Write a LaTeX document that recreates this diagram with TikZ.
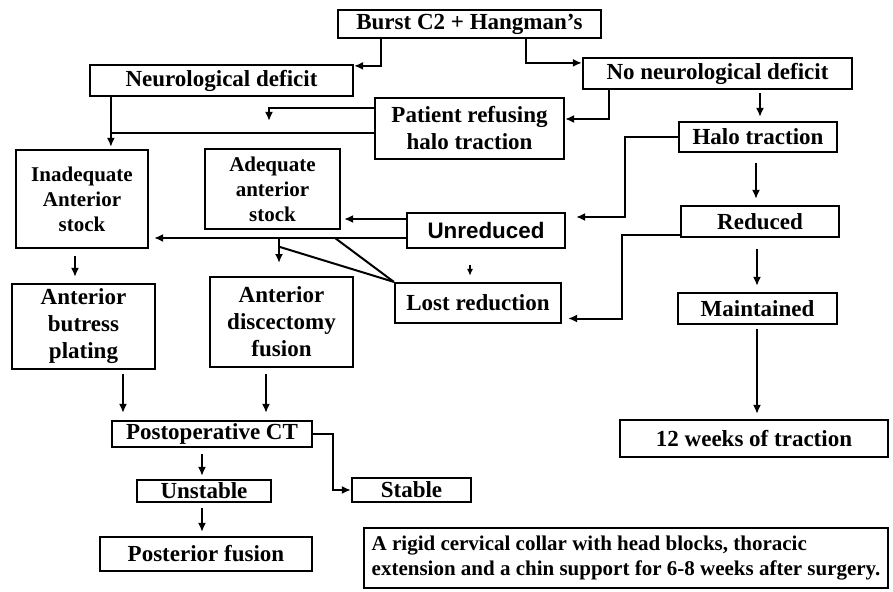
\documentclass[tikz,border=0pt]{standalone}
\usepackage{fontspec}
\setmainfont{Liberation Serif}
\setsansfont{Liberation Sans}
\usetikzlibrary{arrows.meta}
\tikzset{
    box/.style={draw, line width=2.2pt, inner sep=0pt, align=center,
    	font=\bfseries\fontsize{23}{27}\selectfont}
}
\tikzset{
    smalltext/.style={font=\bfseries\fontsize{21}{25}\selectfont}
}
\tikzset{
    arr/.style={line width=2pt, -{Latex[length=9pt,width=8pt]}},
    link/.style={line width=2pt}
}

\begin{document}
\begin{tikzpicture}[x=1pt, y=-1pt]
	\useasboundingbox (0,0) rectangle (893,591);
	\node (burst) [box, minimum width=263pt, minimum height=28pt] at (469.5, 24) {Burst C2 + Hangman's};
	\node (neuro) [box, minimum width=263pt, minimum height=31pt] at (221.5, 80.5) {Neurological deficit};
	\node (noneuro) [box, minimum width=269pt, minimum height=31pt] at (717.5, 73.5) {No neurological deficit};
	\node (patient) [box, minimum width=189pt, minimum height=61pt] at (469.5, 128.5) {Patient refusing\\halo traction};
	\node (halo) [box, minimum width=158pt, minimum height=30pt] at (758, 137) {Halo traction};
	\node (inadeq) [box, smalltext, minimum width=132pt, minimum height=98pt] at (82, 199) {Inadequate\\Anterior\\stock};
	\node (adeq) [box, smalltext, minimum width=135pt, minimum height=80pt] at (272.5, 189) {Adequate\\anterior\\stock};
	\node (unred) [box, font=\sffamily\bfseries\fontsize{22.4}{26}\selectfont, minimum width=158pt, minimum height=35pt] at (486, 230.5) {Unreduced};
	\node (reduced) [box, minimum width=158pt, minimum height=31pt] at (760, 221.5) {Reduced};
	\node (lost) [box, minimum width=166pt, minimum height=40pt] at (478, 303) {Lost reduction};
	\node (maint) [box, minimum width=159pt, minimum height=31pt] at (757.5, 308.5) {Maintained};
	\node (weeks) [box, minimum width=268pt, minimum height=37pt] at (754, 438.5) {12 weeks of traction};
	\node (butress) [box, minimum width=143pt, minimum height=85pt] at (83.5, 326.5) {Anterior\\butress\\plating};
	\node (discect) [box, minimum width=143pt, minimum height=90pt] at (281.5, 322) {Anterior\\discectomy\\fusion};
	\node (postct) [box, minimum width=200pt, minimum height=26pt] at (212, 434) {Postoperative CT};
	\node (unstable) [box, minimum width=134pt, minimum height=22pt] at (204, 491) {Unstable};
	\node (stable) [box, minimum width=119pt, minimum height=24pt] at (411.5, 490) {Stable};
	\node (posterior) [box, minimum width=212pt, minimum height=34pt] at (206, 554) {Posterior fusion};
	\node (note) [box, smalltext, align=left, line width=2.6pt, minimum width=524pt, minimum height=60pt] at (626, 558) {A rigid cervical collar with head blocks, thoracic\\extension and a chin support for 6-8 weeks after surgery.};

	\coordinate (nd) at ([xshift=22pt]neuro.south west);
	\coordinate (pj) at ([yshift=-4.5pt]patient.west);
	\coordinate (pk) at ([yshift=20.5pt]patient.west);
	\coordinate (ua) at ([yshift=11.5pt]unred.west);
	\coordinate (ub) at ([yshift=-7.5pt]unred.west);
	\coordinate (dj) at (279, 238);
	\coordinate (dk) at (280, 247);
	\coordinate (lj) at (335, 238);

	\draw[arr] ([xshift=44pt]burst.south west) |- ([yshift=-2pt]neuro.north east);
	\draw[arr] ([xshift=189pt]burst.south west) |- ([yshift=-6pt]noneuro.north west);
	\draw[arr] ([xshift=27pt]noneuro.south west) |- ([yshift=9.5pt]patient.east);
	\draw[arr, shorten <=3pt, shorten >=4pt] ([xshift=42.5pt]noneuro.south) -- ([xshift=2pt]halo.north);
	\draw[arr, shorten >=2pt] (nd) -- (nd |- inadeq.north);
	\draw[link] (pj) -- (pj -| nd);
	\draw[arr] (pk) -| ([xshift=-3.5pt, yshift=27pt]adeq.north);
	\draw[arr] (halo.west) -- ++(-53,0) |- ([xshift=10pt, yshift=13.5pt]unred.east);
	\draw[arr] ([yshift=-13.5pt]reduced.west) -- ++(-58,0) |- ([xshift=6pt, yshift=-15.5pt]lost.east);
	\draw[arr, shorten <=10pt, shorten >=6pt] ([xshift=-2pt]halo.south) -- ([xshift=-4pt]reduced.north);
	\draw[arr, shorten <=11pt, shorten >=6pt] ([xshift=-3pt]reduced.south) -- ([xshift=-0.5pt]maint.north);
	\draw[arr, shorten <=4pt, shorten >=5pt] ([xshift=-0.5pt]maint.south) -- ([xshift=3pt]weeks.north);
	\draw[arr, shorten >=3pt] (ua) -- (ua -| adeq.east);
	\draw[arr, shorten >=5pt] (ub) -- (ub -| inadeq.east);
	\draw[arr] (dj) -- ++(0,25);
	\draw[link] (lost.north west) -- (lj);
	\draw[link] (lost.north west) -- (dk);
	\draw[arr, -{Latex[length=7pt,width=6pt]}, shorten <=16pt, shorten >=6pt] ([xshift=-16pt]unred.south) -- ([xshift=-8pt]lost.north);
	\draw[arr, shorten <=7pt, shorten >=6pt] ([xshift=-7pt]inadeq.south) -- ([xshift=-8.5pt]butress.north);
	\draw[arr, shorten <=4pt, shorten >=7pt] ([xshift=39.5pt]butress.south) -- ([xshift=-89pt]postct.north);
	\draw[arr, shorten <=6pt, shorten >=7pt] ([xshift=-15.5pt]discect.south) -- ([xshift=54pt]postct.north);
	\draw[arr, shorten <=6pt, shorten >=3pt] ([xshift=-10pt]postct.south) -- ([xshift=-2pt]unstable.north);
	\draw[arr, shorten <=5pt, shorten >=4pt] ([xshift=-2pt]unstable.south) -- ([xshift=-4pt]posterior.north);
	\draw[arr] (postct.east) -- ++(20,0) |- (stable.west);
\end{tikzpicture}
\end{document}
